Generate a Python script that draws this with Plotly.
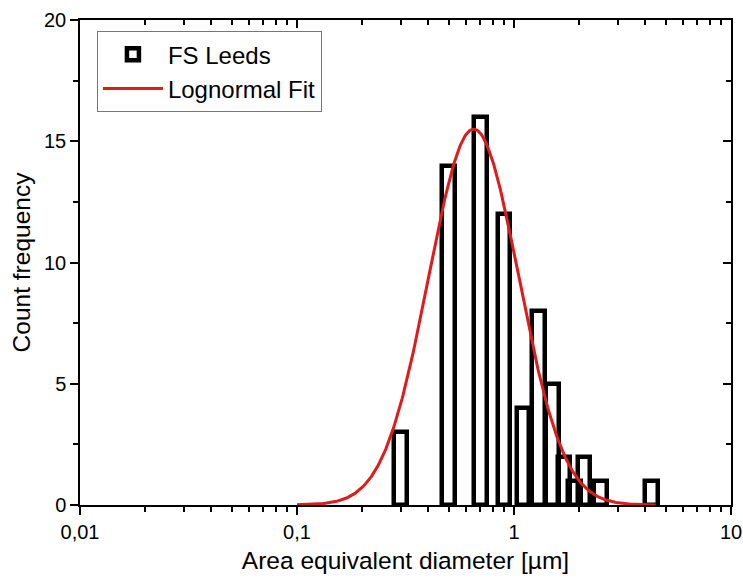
import numpy as np
import plotly.graph_objects as go

# ---- data ----
bin_centers = [0.3, 0.5, 0.7, 0.9, 1.1, 1.3, 1.5, 1.7, 1.9, 2.1, 2.5, 4.3]   # µm
counts      = [3, 14, 16, 12, 4, 8, 5, 2, 1, 2, 1, 1]

# lognormal fit parameters
fit_peak = 15.5      # counts at the mode
fit_mode = 0.652     # µm
fit_sigma = 0.478    # ln-space width
fit_xmin, fit_xmax = 0.1, 4.5

x_tickvals = [0.01, 0.1, 1, 10]
x_ticktext = ["0,01", "0,1", "1", "10"]
x_minorvals = [m * d for d in (0.01, 0.1, 1) for m in range(2, 10)]
y_tickvals = [0, 5, 10, 15, 20]
y_minorvals = [2.5, 7.5, 12.5, 17.5]

# ---- geometry (constant width in log space, like the original) ----
half_dec = 0.029
c = np.array(bin_centers)
lo = c * 10 ** (-half_dec)
hi = c * 10 ** (half_dec)
bar_x = (lo + hi) / 2
bar_w = hi - lo

xf = np.logspace(np.log10(fit_xmin), np.log10(fit_xmax), 400)
yf = fit_peak * np.exp(-(np.log(xf / fit_mode)) ** 2 / (2 * fit_sigma ** 2))

FONT = "Arial, Liberation Sans, sans-serif"

fig = go.Figure()
fig.add_trace(go.Bar(
    x=bar_x, y=counts, width=bar_w, name="FS Leeds",
    marker=dict(color="rgba(255,255,255,0)", line=dict(color="black", width=4.5)),
))
fig.add_trace(go.Scatter(
    x=xf, y=yf, mode="lines", name="Lognormal Fit",
    line=dict(color="#e01b1b", width=3), xaxis="x2", yaxis="y2",
))

axis_common = dict(showgrid=False, zeroline=False, linecolor="black", linewidth=1.5,
                   tickcolor="black", tickwidth=1.5, automargin=False)

fig.update_layout(
    width=743, height=582,
    margin=dict(l=80, r=12, t=20, b=77),
    paper_bgcolor="white", plot_bgcolor="white",
    font=dict(family=FONT, size=20, color="black"),
    bargap=0,
    xaxis=dict(type="log", range=[-2, 1], tickvals=x_tickvals, ticktext=x_ticktext,
               ticks="outside", ticklen=8,
               minor=dict(tickvals=x_minorvals, ticks="outside", ticklen=5,
                          tickcolor="black", tickwidth=1.5),
               title=dict(text="Area equivalent diameter [µm]", font=dict(size=24.5), standoff=10),
               tickfont=dict(size=20), **axis_common),
    yaxis=dict(range=[0, 20], tickvals=y_tickvals, ticks="outside", ticklen=8,
               minor=dict(tickvals=y_minorvals, ticks="outside", ticklen=5,
                          tickcolor="black", tickwidth=1.5),
               title=dict(text="Count frequency", font=dict(size=24.5), standoff=6),
               tickfont=dict(size=20), **axis_common),
    xaxis2=dict(type="log", range=[-2, 1], overlaying="x", side="top", anchor="y2",
                tickvals=x_tickvals, showticklabels=False, ticks="inside", ticklen=8,
                minor=dict(tickvals=x_minorvals, ticks="inside", ticklen=5,
                           tickcolor="black", tickwidth=1.5),
                **axis_common),
    yaxis2=dict(range=[0, 20], overlaying="y", side="right", anchor="x2",
                tickvals=y_tickvals, showticklabels=False, ticks="inside", ticklen=8,
                minor=dict(tickvals=y_minorvals, ticks="inside", ticklen=5,
                           tickcolor="black", tickwidth=1.5),
                **axis_common),
    legend=dict(x=0.026, y=0.977, xanchor="left", yanchor="top",
                bgcolor="white", bordercolor="#777777", borderwidth=1,
                font=dict(size=24), itemwidth=60, tracegroupgap=0),
    showlegend=True,
)

fig.write_html("out.html")
